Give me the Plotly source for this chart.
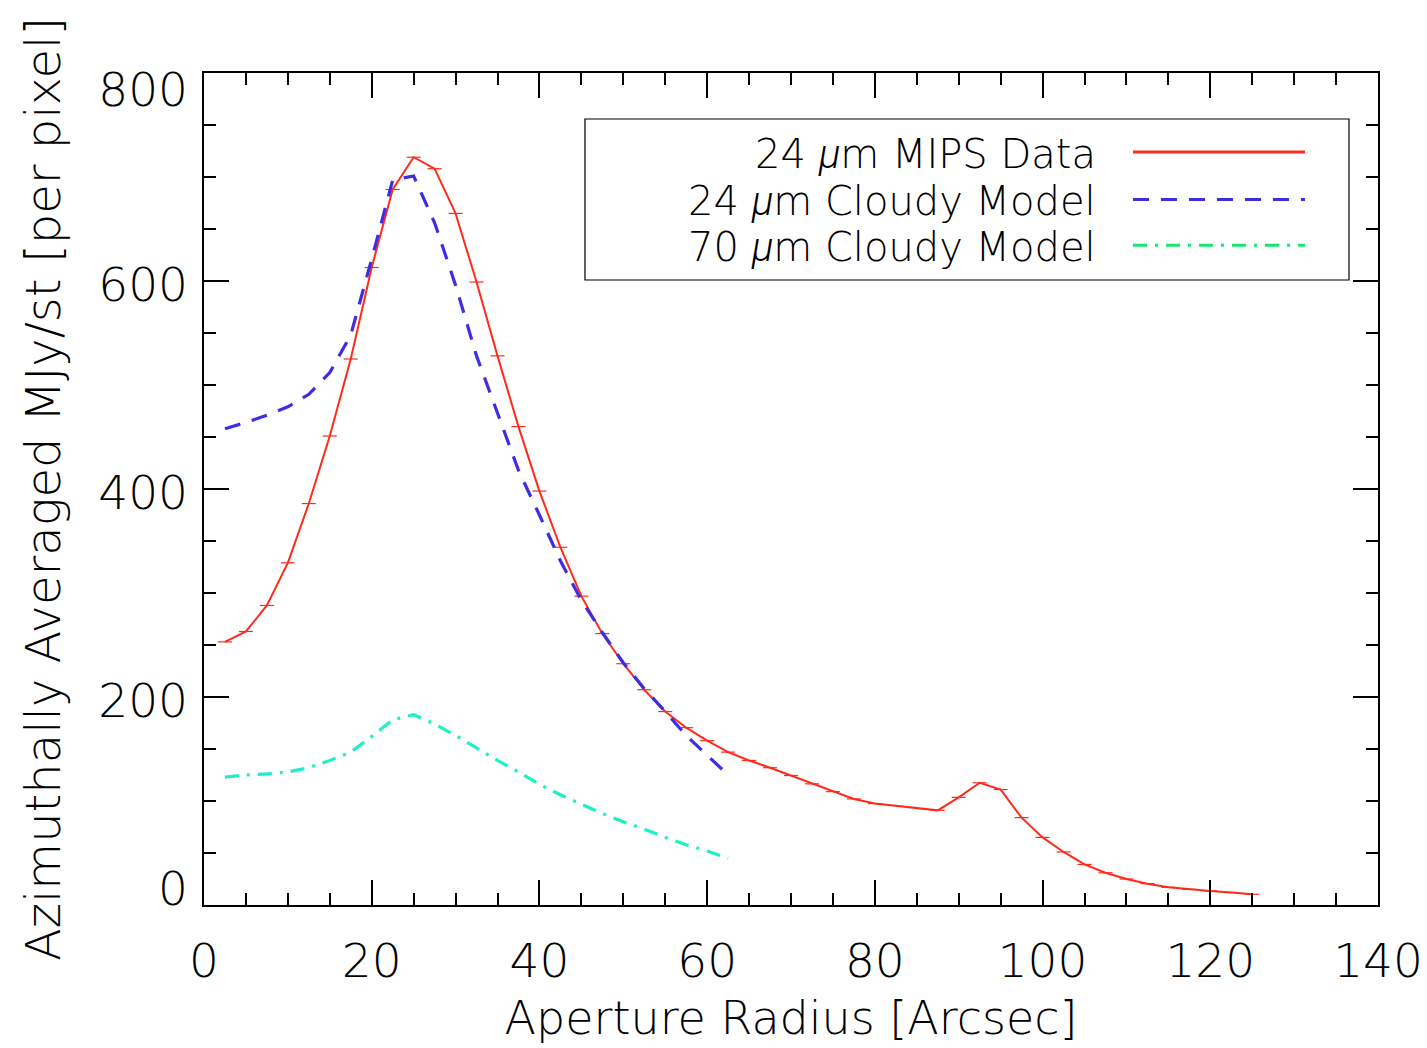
import plotly.graph_objects as go

# ---- data ----
mips_x = [2.5, 5, 7.5, 10, 12.5, 15, 17.5, 20, 22.5, 25, 27.5, 30, 32.5, 35, 37.5,
          40, 42.5, 45, 47.5, 50, 52.5, 55, 57.5, 60, 62.5, 65, 67.5, 70, 72.5, 75,
          77.5, 80, 87.5, 90, 92.5, 95, 97.5, 100, 102.5, 105, 107.5, 110, 112.5,
          115, 117.5, 120, 122.5, 125]
mips_y = [253, 263, 288, 329, 386, 451, 525, 613, 688, 719, 708, 665, 599, 528, 460,
          398, 344, 297, 261, 232, 207, 186, 170.5, 158, 147, 139, 132, 124.5, 116.5, 109,
          102, 97.5, 91, 103.5, 117.5, 111, 84, 65, 51, 39, 31, 25, 20.5,
          17, 15, 13.5, 12, 10.3]

model_x = [2.5, 5, 7.5, 10, 12.5, 15, 17.5, 20, 22.5, 25, 27.5, 30, 32.5, 35, 37.5,
           40, 42.5, 45, 47.5, 50, 52.5, 55, 57.5, 60, 62.5]
cloudy24_y = [458, 464, 471, 479, 491, 512, 548, 621, 697, 701, 656, 596, 528, 472, 418,
              375, 331, 293, 262, 233, 208, 186, 163, 144, 125]
cloudy70_y = [123, 125, 126, 128, 132, 139, 147, 162, 178, 183, 174, 163, 151, 139, 128,
              116, 106, 97, 88, 80, 73, 65, 58, 52, 45]

MU = '<span style="font-family:Roboto;font-style:italic;font-weight:300">μ</span>'
legend_labels = ["24 " + MU + "m MIPS Data", "24 " + MU + "m Cloudy Model", "70 " + MU + "m Cloudy Model"]
x_ticks = [0, 20, 40, 60, 80, 100, 120, 140]
y_ticks = [0, 200, 400, 600, 800]
# IDL keeps the end labels inside the frame: label anchor values for the y tick text
y_label_pos = [15.5, 197, 397, 597, 784]

RED = "#ff2a1c"
BLUE = "#3d2ee4"
CYAN = "#1cf0c4"
GREEN = "#14e86c"
FONT = "DejaVu Sans"
W = 200

fig = go.Figure()
fig.add_trace(go.Scatter(x=mips_x, y=mips_y, mode="lines+markers",
                         line=dict(color=RED, width=2),
                         marker=dict(symbol="line-ew", size=10, line=dict(color=RED, width=1.2)),
                         showlegend=False))
fig.add_trace(go.Scatter(x=model_x, y=cloudy24_y, mode="lines",
                         line=dict(color=BLUE, width=3.2, dash="16px,12px"),
                         showlegend=False))
fig.add_trace(go.Scatter(x=model_x, y=cloudy70_y, mode="lines",
                         line=dict(color=CYAN, width=3.2, dash="14px,8px,3px,8px"),
                         showlegend=False))
# invisible trace bound to the label-only y axis
fig.add_trace(go.Scatter(x=[None], y=[None], yaxis="y2", showlegend=False, hoverinfo="skip"))

axis_common = dict(showgrid=False, zeroline=False, showline=True, linecolor="black",
                   linewidth=2, mirror="ticks", ticks="inside", tickcolor="black",
                   tickwidth=2, ticklen=25, automargin=False,
                   tickfont=dict(family=FONT, size=47, color="black", weight=W))

fig.update_xaxes(range=[0, 140], tickvals=x_ticks, ticktext=[str(v) for v in x_ticks],
                 minor=dict(dtick=5, tick0=0, ticks="inside", ticklen=12, tickwidth=2, tickcolor="black"),
                 ticklabelstandoff=14,
                 title=dict(text="Aperture Radius [Arcsec]",
                            font=dict(family=FONT, size=46, color="black", weight=W),
                            standoff=14),
                 **axis_common)
fig.update_yaxes(range=[0, 800], tickvals=y_ticks, showticklabels=False,
                 minor=dict(dtick=50, tick0=0, ticks="inside", ticklen=12, tickwidth=2, tickcolor="black"),
                 **axis_common)
fig.update_layout(yaxis2=dict(overlaying="y", side="left", range=[0, 800], anchor="x",
                              tickvals=y_label_pos, ticktext=[str(v) for v in y_ticks],
                              ticks="", showgrid=False, zeroline=False, showline=False,
                              automargin=False, ticklabelstandoff=15,
                              tickfont=dict(family=FONT, size=47, color="black", weight=W),
                              title=dict(text="Azimuthally Averaged MJy/st [per pixel]",
                                         font=dict(family=FONT, size=48, color="black", weight=W),
                                         standoff=22)))

# ---- custom legend (text right, line sample on the right) ----
shapes = [dict(type="rect", xref="paper", yref="paper", x0=0.3245, x1=0.9753, y0=0.7512, y1=0.9447,
               line=dict(color="black", width=1.2), fillcolor="white", layer="above")]
row_y = [0.9050, 0.8480, 0.7930]
styles = [(RED, "solid", 3), (BLUE, "16px,12px", 3), (GREEN, "14px,8px,3px,8px", 3)]
for yy, (c, d, w) in zip(row_y, styles):
    shapes.append(dict(type="line", xref="paper", yref="paper", x0=0.7913, x1=0.9378, y0=yy, y1=yy,
                       line=dict(color=c, width=w, dash=d), layer="above"))
annotations = []
for yy, t in zip(row_y, legend_labels):
    annotations.append(dict(x=0.7615, y=yy - 0.003, xref="paper", yref="paper", text=t, showarrow=False,
                            xanchor="right", yanchor="middle",
                            font=dict(family=FONT, size=40, color="black", weight=W)))

fig.update_layout(width=1427, height=1048, plot_bgcolor="white", paper_bgcolor="white",
                  margin=dict(l=204, r=49, t=73, b=143), shapes=shapes, annotations=annotations,
                  showlegend=False)

fig.write_html("out.html")
